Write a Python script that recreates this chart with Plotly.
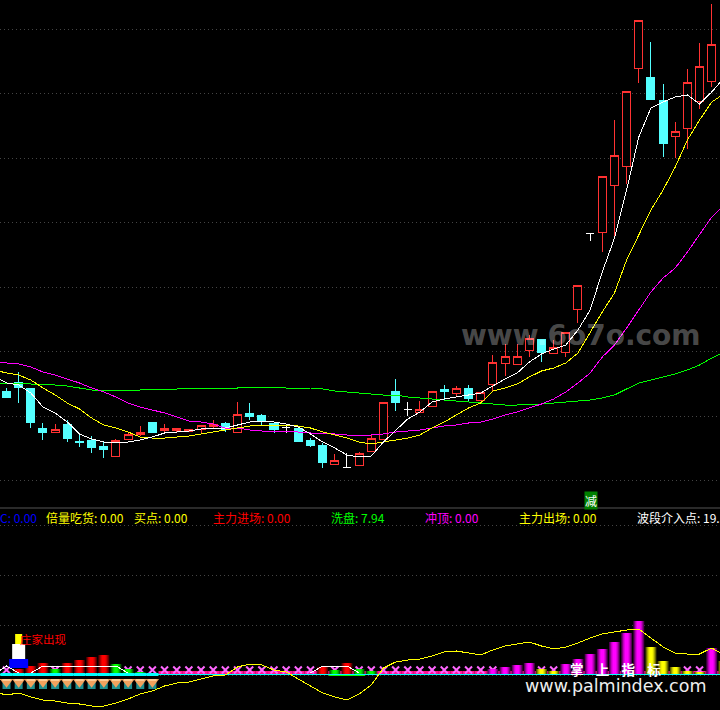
import plotly.graph_objects as go

# ---------- upper pane: candles (scale: pane units above its floor) ----------
OPEN  = [117,126,120,80,76,84,67,68,62,52,69,74,86,78,78,77,79,82,85,76,95,93,85,81,80,68,63,44,41,43,57,69,117,99,96,102,119,115,120,108,124,145,144,158,169,155,156,199,275,276,323,342,440,431,408,372,380,407,427]
CLOSE = [111,121,86,76,79,70,66,61,59,68,74,76,76,80,80,79,83,84,79,94,92,87,79,81,67,63,46,48,41,55,70,106,106,99,99,117,117,120,110,116,146,152,152,170,156,161,176,223,275,332,353,417,488,409,365,377,426,442,464]
HIGH  = [120,136,120,85,84,88,75,72,66,69,75,82,86,84,80,79,83,88,86,106,105,94,85,84,81,70,65,54,55,56,73,106,129,106,107,117,123,122,123,116,153,164,164,173,169,168,176,223,275,332,388,417,488,466,424,386,439,465,504]
LOW   = [110,105,80,68,76,66,61,55,50,52,68,72,75,75,75,77,74,80,76,76,88,83,75,75,67,61,40,43,40,43,57,69,97,92,96,102,107,111,107,108,116,132,144,151,146,155,151,185,267,256,270,324,425,409,351,350,359,399,421]
KIND  = [
    "c","c","c","c","r","c","c","c","c","r","r","r","c","r","r","r","r","r","c","r",
    "c","c","c","w","c","c","c","r","w","r","r","r","c","w","r","r","c","r","c","r",
    "r","r","r","r","c","r","r","r","w","r","r","r","r","c","c","r","r","r","r"]

# moving averages, index -1 .. 59
LINE_X  = list(range(-1, 60))
WHITE   = [132,125,123,115,101,95,86,74,69,66,65,66,68,71,75,76,77,79,80,80,83,86,87,86,84,81,74,66,60,53,51,52,66,78,89,96,106,109,111,113,115,122,129,135,146,154,159,163,178,198,236,270,318,371,400,406,411,413,404,416,430]
YELLOW  = [138,135,133,128,120,113,105,99,90,83,80,76,71,70,70,71,72,74,76,78,80,82,83,83,83,82,80,76,73,70,66,64,66,68,70,73,80,86,93,100,105,117,120,124,131,137,140,145,155,176,196,215,248,273,298,318,341,368,388,406,414]
MAGENTA = [147,145,144,141,136,133,129,125,120,116,111,105,101,98,95,91,87,86,84,80,80,78,77,77,77,76,75,75,74,73,73,73,74,76,77,78,80,82,83,85,86,89,93,96,100,104,109,116,125,135,151,163,180,198,216,230,240,256,273,291,303]
GREEN   = [125,125,125,124,124,123,122,120,118,118,118,118,118,119,119,119,120,120,120,120,120,121,121,121,120,120,120,119,117,116,115,114,113,113,111,110,109,108,107,106,105,104,103,103,104,104,105,106,107,108,110,113,119,125,128,131,134,138,143,150,156]

# ---------- lower pane ----------
OSC = [-18,-21,-19,-23,-26,-27,-29,-30,-32,-32,-29,-25,-20,-17,-12,-9,-8,-5,-2,-1,7,10,9,4,2,-5,-12,-19,-23,-26,-20,-11,6,12,14,15,18,22,23,21,19,24,28,30,32,28,25,27,31,36,40,42,44,45,36,27,21,20,20,26,19]
RED_X = [1,2,3,5,6,7,8,26,28];              RED_V = [5,8,11,11,14,17,19,7,11]
GRN_X = [4,9,10,11,27,29,30];               GRN_V = [5,10,5,2,4,5,3]
MAG_X = [40,41,42,43,46,47,48,49,50,51,52,58]; MAG_V = [5,7,9,11,10,15,20,25,32,41,53,26]
YEL_X = [44,45,53,54,55,56,57,59];          YEL_V = [5,3,27,13,7,3,2,13]
CROSS_X = [0,4]+list(range(10,26))+[27]+list(range(29,41))+[44,45,56,57]
BAND_X = list(range(13,60))
GEM_X = list(range(0,13))
WHITE_SEG_X = [-1,0,1,None,2,3,4,5,6,7,8,9,10,None,25,26,27,28,29]
WHITE_SEG_V = [0,8,1,None,1,8,8,8,8,8,8,8,1,None,1,8,8,8,1]

LABELS = [("C: 0.00",-2,"#0000ff"),("倍量吃货: 0.00",44,"#ffff00"),("买点: 0.00",132,"#ffff00"),
          ("主力进场: 0.00",211,"#ff0000"),("洗盘: 7.94",329,"#00ff00"),("冲顶: 0.00",423,"#ff00ff"),
          ("主力出场: 0.00",517,"#ffff00"),("波段介入点: 19.38",635,"#ffffff")]

W, H = 720, 710
SPLIT = 508
X_RANGE = [-0.535, 58.68]
GRID = "#444444"
DOTS = "1px,3px"
CJK = "Noto Sans CJK SC"

fig = go.Figure()

def candles(kind, inc, dec):
    idx = [i for i,k in enumerate(KIND) if k == kind]
    fig.add_trace(go.Candlestick(
        x=idx, open=[OPEN[i] for i in idx], close=[CLOSE[i] for i in idx],
        high=[HIGH[i] for i in idx], low=[LOW[i] for i in idx],
        increasing=dict(line=dict(color=inc, width=1), fillcolor="#000000"),
        decreasing=dict(line=dict(color=dec, width=1), fillcolor=dec),
        whiskerwidth=0, hoverinfo="skip"))

for vals, col in [(GREEN,"#00ff00"),(MAGENTA,"#ff00ff")]:
    fig.add_trace(go.Scatter(x=LINE_X,y=vals,mode="lines",line=dict(color=col,width=1),hoverinfo="skip"))
candles("r","#ff3232","#ff3232")
candles("c","#54ffff","#54ffff")
candles("w","#ffffff","#ffffff")
for vals, col in [(YELLOW,"#ffff00"),(WHITE,"#ffffff")]:
    fig.add_trace(go.Scatter(x=LINE_X,y=vals,mode="lines",line=dict(color=col,width=1),hoverinfo="skip"))

# lower pane base layer (under the bars)
fig.add_trace(go.Bar(x=BAND_X,y=[3]*len(BAND_X),width=1,marker=dict(color="#ff1493",line_width=0),
                     xaxis="x2",yaxis="y2",hoverinfo="skip"))
fig.add_trace(go.Scatter(x=CROSS_X,y=[4]*len(CROSS_X),mode="markers",
                         marker=dict(symbol="x-thin",size=7,line=dict(color="#ff66ff",width=2)),
                         xaxis="x2",yaxis="y2",hoverinfo="skip"))

def mix(rgb,f):
    return "rgb(%d,%d,%d)"%tuple(int(c*f) for c in rgb)

def cylinder(xs, vs, rgb):
    for w,f in [(0.9,0.3),(0.75,0.5),(0.6,0.72),(0.45,0.88),(0.28,1.0)]:
        fig.add_trace(go.Bar(x=xs,y=vs,width=w,marker=dict(color=mix(rgb,f),line_width=0),
                             xaxis="x2",yaxis="y3",hoverinfo="skip"))

# banker stack at one bar
STACK = [(6,9,1.56,"#0000ff"),(15,15,1.07,"#ffffff"),(30,10,0.58,"#ffff00")]
cylinder(RED_X,RED_V,(255,0,0))
cylinder(GRN_X,GRN_V,(0,255,0))
cylinder(MAG_X,MAG_V,(255,0,255))
cylinder(YEL_X,YEL_V,(255,255,0))
for base,h,w,c in STACK:
    fig.add_trace(go.Bar(x=[1],y=[h],base=[base],width=w,marker=dict(color=c,line_width=0),
                         xaxis="x2",yaxis="y3",hoverinfo="skip"))
# thick bands round the zero line
fig.add_trace(go.Bar(x=GEM_X,y=[3]*13,base=[-2]*13,width=1,marker=dict(color="#00ffff",line_width=0),
                     xaxis="x2",yaxis="y3",hoverinfo="skip"))
fig.add_trace(go.Bar(x=[27,28,29],y=[1.5]*3,base=[-2]*3,width=1,marker=dict(color="#00ff00",line_width=0),
                     xaxis="x2",yaxis="y3",hoverinfo="skip"))
fig.add_trace(go.Scatter(x=LINE_X,y=[0]*len(LINE_X),mode="lines",line=dict(color="#00ffff",width=1),
                         xaxis="x2",yaxis="y3",hoverinfo="skip"))
fig.add_trace(go.Scatter(x=WHITE_SEG_X,y=WHITE_SEG_V,mode="lines",line=dict(color="#ffffff",width=1),
                         connectgaps=False,xaxis="x2",yaxis="y3",hoverinfo="skip"))
fig.add_trace(go.Scatter(x=LINE_X,y=OSC,mode="lines",line=dict(color="#ffff00",width=1),
                         xaxis="x2",yaxis="y3",hoverinfo="skip"))
# gem icons
fig.add_trace(go.Scatter(x=GEM_X,y=[-11]*13,mode="markers",marker=dict(symbol="square",size=8,color="#1f8f8f"),
                         xaxis="x2",yaxis="y3",hoverinfo="skip"))
fig.add_trace(go.Scatter(x=GEM_X,y=[-8]*13,mode="markers",marker=dict(symbol="triangle-down",size=11.5,color="#f2a25e"),
                         xaxis="x2",yaxis="y3",hoverinfo="skip"))
fig.add_trace(go.Scatter(x=GEM_X,y=[-6]*13,mode="markers",marker=dict(symbol="line-ew",size=6,line=dict(color="#ffd8a8",width=1.5)),
                         xaxis="x2",yaxis="y3",hoverinfo="skip"))

def px(x): return x/W
def py(y): return 1-y/H

def note(text,x,y,font,xanchor="center",**kw):
    return dict(text=text,x=px(x),y=py(y),xref="paper",yref="paper",xanchor=xanchor,yanchor="middle",
                showarrow=False,font=font,**kw)

ann = [note(txt,x,517,dict(family=CJK,size=12,color=c),xanchor="left") for txt,x,c in LABELS]
ann += [
    note("减",590.5,500.5,dict(family=CJK,size=12,color="#ffffff"),bgcolor="#008000",borderpad=0),
    note("庄家出现",18,639,dict(family=CJK,size=11.5,color="#ff0000"),xanchor="left"),
    note("www.6o7o.com",581,335,dict(family="DejaVu Sans",size=28,color="rgba(255,255,255,0.3)",weight="bold")),
    note("掌    上    指    标",615,669,dict(family=CJK,size=13.5,color="#ffffff",weight="bold")),
    note("www.palmindex.com",615,686,dict(family="DejaVu Sans",size=17.5,color="#eeeeee")),
]

hidden = dict(showticklabels=False,ticks="",zeroline=False,showline=False)
fig.update_layout(
    width=W,height=H,margin=dict(l=0,r=0,t=0,b=0),paper_bgcolor="#000000",plot_bgcolor="#000000",
    showlegend=False,hovermode=False,barmode="overlay",boxgap=0,boxgroupgap=0.34,
    xaxis=dict(domain=[0,1],range=X_RANGE,showgrid=False,anchor="y",rangeslider=dict(visible=False),**hidden),
    yaxis=dict(domain=[1-SPLIT/H,1],range=[0,SPLIT],tick0=27.5,dtick=64.5,showgrid=True,
               gridcolor=GRID,griddash=DOTS,gridwidth=1,**hidden),
    xaxis2=dict(domain=[0,1],range=X_RANGE,showgrid=False,anchor="y2",**hidden),
    yaxis2=dict(domain=[0,1-SPLIT/H],range=[-36,166],tick0=-1,dtick=50,showgrid=True,
                gridcolor=GRID,griddash=DOTS,gridwidth=1,anchor="x2",**hidden),
    yaxis3=dict(domain=[0,1-SPLIT/H],range=[-36,166],overlaying="y2",showgrid=False,anchor="x2",**hidden),
    annotations=ann,
    shapes=[dict(type="line",xref="paper",yref="paper",x0=0,x1=1,y0=py(SPLIT),y1=py(SPLIT),
                 line=dict(color="#555555",width=1))],
)
CRISP = """
var s=document.createElement('style');
s.textContent='.scatterlayer .js-line,.boxlayer path{shape-rendering:crispEdges !important}';
document.head.appendChild(s);
document.body.style.margin='0';document.body.style.background='#000';document.documentElement.style.overflow='hidden';
"""
fig.write_html("out.html",config=dict(displayModeBar=False),post_script=CRISP)
